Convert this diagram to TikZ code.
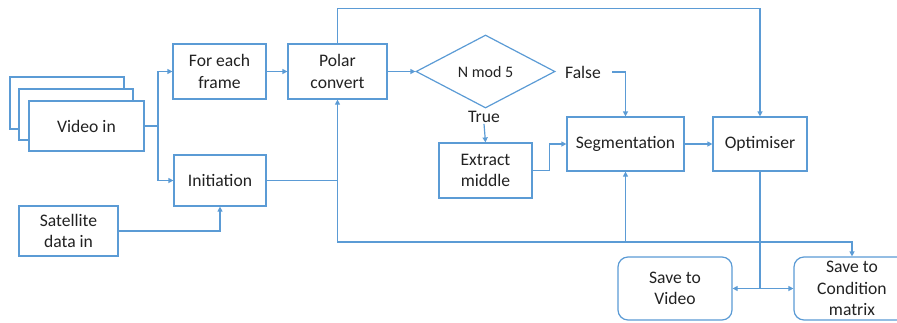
\documentclass[tikz,border=0pt]{standalone}
\usepackage{fontspec}
\setmainfont{Carlito}
\usetikzlibrary{shapes.geometric,arrows.meta}
\definecolor{flowblue}{HTML}{5B9BD5}
\definecolor{flowtext}{HTML}{222222}
\begin{document}
\begin{tikzpicture}[x=1pt,y=-1pt,
  every node/.style={text=flowtext, font=\fontsize{17.6}{21.5}\selectfont},
  box/.style={draw=flowblue, line width=1.2pt, fill=white, align=center, inner sep=0pt},
  roundbox/.style={box, rounded corners=10pt},
  decision/.style={diamond, draw=flowblue, line width=1.2pt, aspect=2, inner sep=2pt,
    minimum width=139pt, minimum height=73pt, font=\fontsize{16}{19}\selectfont},
  label/.style={inner sep=1pt},
  link/.style={draw=flowblue, line width=1.2pt},
  arrow/.style={link, -{Triangle[length=5pt,width=5pt]}}]
\useasboundingbox (0,0) rectangle (897,322);
\clip (0,0) rectangle (897,322);

% stacked video inputs
\node[box, minimum width=114pt, minimum height=52pt] (back1) at (67,103) {};
\node[box, minimum width=114pt, minimum height=51pt] (back2) at (76,114.5) {};
\node[box, minimum width=115pt, minimum height=50pt] (video) at (86.5,126) {Video in};

\node[box, minimum width=93pt, minimum height=55pt] (frame) at (219.5,71.5) {For each\\frame};
\node[box, minimum width=92pt, minimum height=51pt] (init) at (220,180.5) {Initiation};
\node[box, minimum width=99pt, minimum height=50pt] (sat) at (68.5,231) {Satellite\\data in};
\node[box, minimum width=99pt, minimum height=55pt] (polar) at (337.5,71.5) {Polar\\convert};
\node[decision] (mod) at (485.5,71.5) {N mod 5};
\node[label] (true) at (484,117) {True};
\node[label] (false) at (583,72) {False};
\node[box, minimum width=93pt, minimum height=55pt] (extract) at (485.5,170.5) {Extract\\middle};
\node[box, minimum width=117pt, minimum height=54pt] (seg) at (625.5,144) {Segmentation};
\node[box, minimum width=94pt, minimum height=54pt] (opt) at (760,144) {Optimiser};
\node[roundbox, minimum width=114pt, minimum height=63pt] (savevid) at (675,288.5) {Save to\\Video};
\node[roundbox, minimum width=116pt, minimum height=63pt] (savecond) at (852,288.5) {Save to\\Condition\\matrix};

% junction points
\coordinate (vsplit) at (158,126);
\coordinate (ijoin) at (polar.south |- init.east);
\coordinate (ilow) at (ijoin |- 0,242);
\coordinate (osplit) at (opt.south |- savevid.east);

% connectors
\draw[link] (video.east) -- (vsplit);
\draw[arrow] (vsplit) |- (frame.west);
\draw[arrow] (vsplit) |- (init.west);
\draw[arrow] (sat.east) -| (init.south);
\draw[arrow] (frame.east) -- (polar.west);
\draw[arrow] (polar.east) -- (mod.west);
\draw[arrow] (polar.north) -- ++(0,-35) -| (opt.north);
\draw[link] (init.east) -- (ijoin);
\draw[arrow] (ijoin) -- (polar.south);
\draw[arrow] (ijoin) -- (ilow) -| (savecond.north);
\draw[arrow] (seg.south |- ilow) -- (seg.south);
\draw[arrow] (true.south) -- (extract.north);
\draw[arrow] ([xshift=10pt]false.east) -| (seg.north);
\draw[arrow] (extract.east) -- ++(17,0) |- (seg.west);
\draw[arrow] (seg.east) -- (opt.west);
\draw[link] (opt.south) -- (osplit);
\draw[arrow] (osplit) -- (savevid.east);
\draw[arrow] (osplit) -- (savecond.west);
\end{tikzpicture}
\end{document}
